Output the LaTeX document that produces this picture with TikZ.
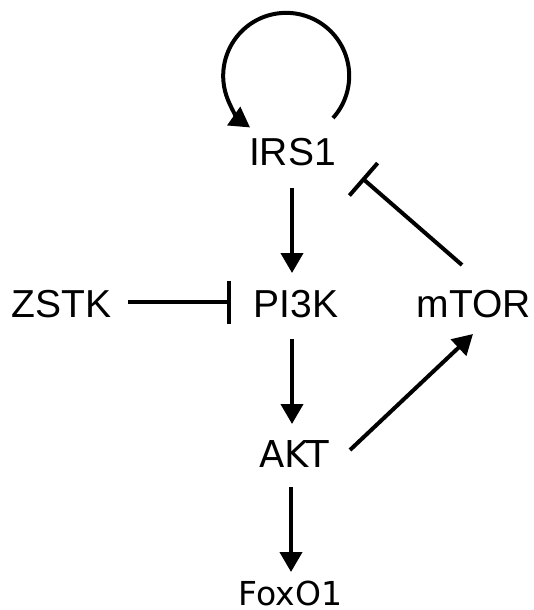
\documentclass[tikz,border=0pt]{standalone}
\usepackage{fontspec}
\setmainfont{Liberation Sans}
\newfontfamily\dejavu{DejaVu Sans}
\usetikzlibrary{arrows.meta}
\begin{document}
\begin{tikzpicture}[x=1pt,y=-1pt,
  lbl/.style={inner sep=0pt,anchor=base,font=\fontsize{39}{39}\selectfont},
  lbltwo/.style={inner sep=0pt,anchor=base,font=\dejavu\fontsize{37}{37}\selectfont},
  lblthree/.style={inner sep=0pt,anchor=base,font=\dejavu\fontsize{33}{33}\selectfont},
  act/.style={line width=4pt,-{Triangle[width=22pt,length=20pt]}},
  inh/.style={line width=4pt,-{Bar[width=43pt]}}]
\useasboundingbox (0,0) rectangle (533,610);
\node[lbl] (irs) at (292.5,165) {IRS1};
\node[lbl] (zstk) at (61.5,317) {ZSTK};
\node[lbl] (pi3k) at (296,317) {PI3K};
\node[lbl] (mtor) at (474,317) {mTOR};
\node[lbltwo] (akt) at (294,467) {AKT};
\node[lblthree] (foxo) at (290.5,605.5) {FoxO1};
% self loop on IRS1
\draw[act] ([shift={(40.5,-47)}]irs.base) arc[start angle=42,end angle=-235,radius=63];
% activations
\draw[act] ([shift={(-0.5,23)}]irs.base) -- ([shift={(-4,-44)}]pi3k.base);
\draw[act] ([shift={(-4,22)}]pi3k.base) -- ([shift={(-2,-43)}]akt.base);
\draw[act] ([shift={(-3,20)}]akt.base) -- ([shift={(0.5,-33.5)}]foxo.base);
\draw[act] ([shift={(56,-17)}]akt.base) -- ([shift={(-1,17)}]mtor.base);
% inhibitions
\draw[inh] ([shift={(66.5,-15)}]zstk.base) -- ([shift={(-65,-15)}]pi3k.base);
\draw[inh] ([shift={(-12,-52)}]mtor.base) -- ([shift={(69.5,13)}]irs.base);
\end{tikzpicture}
\end{document}
